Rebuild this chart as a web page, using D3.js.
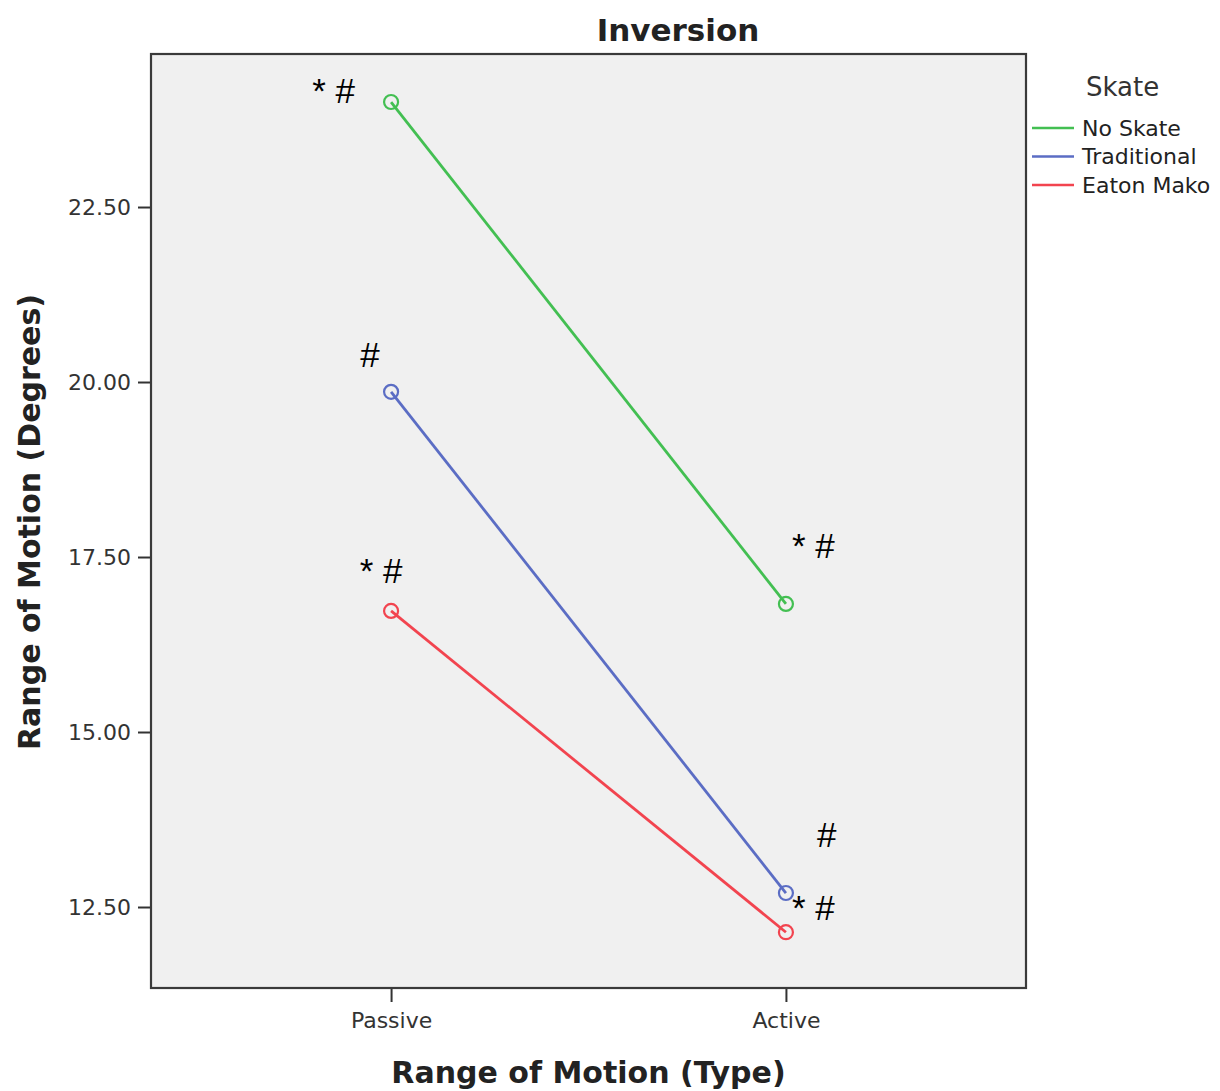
<!DOCTYPE html>
<html>
<head>
<meta charset="utf-8">
<script src="https://cdn.jsdelivr.net/npm/d3@7"></script>
<style>
  body { margin: 0; background: #fff; }
  svg text { font-family: "DejaVu Sans", sans-serif; }
</style>
</head>
<body>
<div id="chart"></div>
<script>
// Data
const types = ["Passive", "Active"];
const skates = ["No Skate", "Traditional", "Eaton Mako"];
const noSkate = [24.0, 16.83];
const traditional = [19.86, 12.70];
const eatonMako = [16.73, 12.14];
const yTicks = [12.5, 15.0, 17.5, 20.0, 22.5];
const colors = ["#43bf52", "#5b6dc4", "#f2444f"];

// significance marks: series index, type index, text
const marks = [
    { s: 0, t: 0, text: "* #", dx: -36, dy: 1, anchor: "end" },
    { s: 1, t: 0, text: "#", dx: -21, dy: -25, anchor: "middle" },
    { s: 2, t: 0, text: "* #", dx: -10, dy: -28, anchor: "middle" },
    { s: 0, t: 1, text: "* #", dx: 6, dy: -46, anchor: "start" },
    { s: 1, t: 1, text: "#", dx: 31, dy: -46, anchor: "start" },
    { s: 1, t: 1, text: "* #", dx: 6, dy: 27, anchor: "start" }
];

const series = [noSkate, traditional, eatonMako].map((vals, i) => ({
    name: skates[i],
    color: colors[i],
    values: vals.map((v, j) => ({ type: types[j], value: v }))
}));

const margin = { top: 54, right: 194, bottom: 103, left: 151 };
const width = 1220 - margin.left - margin.right,
    height = 1091 - margin.top - margin.bottom;

const svg = d3.select("#chart").append("svg")
    .attr("width", 1220)
    .attr("height", 1091);

const g = svg.append("g")
    .attr("transform", "translate(" + margin.left + "," + margin.top + ")");

// Scales
const x = d3.scalePoint()
    .domain(types)
    .range([0, width])
    .padding(0.608);

const y = d3.scaleLinear()
    .domain([11.343, 24.686])
    .range([height, 0]);

// plot background
g.append("rect")
    .attr("width", width)
    .attr("height", height)
    .attr("fill", "#f0f0f0");

// Axes
const xAxis = d3.axisBottom(x).tickSize(14).tickPadding(10);
const yAxis = d3.axisLeft(y).tickValues(yTicks).tickFormat(d3.format(".2f")).tickSize(13).tickPadding(7);

g.append("g")
    .attr("class", "x-axis axis")
    .attr("transform", "translate(0," + height + ")")
    .call(xAxis)
    .call(a => a.select(".domain").remove());

g.append("g")
    .attr("class", "y-axis axis")
    .call(yAxis)
    .call(a => a.select(".domain").remove());

svg.selectAll(".axis line").attr("stroke", "#333").attr("stroke-width", 2);
svg.selectAll(".axis text")
    .attr("fill", "#333")
    .style("font-size", "22px")
    .style("font-family", "DejaVu Sans, sans-serif");

// frame
g.append("rect")
    .attr("width", width)
    .attr("height", height)
    .attr("fill", "none")
    .attr("stroke", "#3a3a3a")
    .attr("stroke-width", 2.2);

// Lines and markers
const line = d3.line()
    .x(d => x(d.type))
    .y(d => y(d.value));

const sg = g.selectAll(".series")
    .data(series)
    .enter().append("g")
    .attr("class", "series");

sg.append("path")
    .attr("d", d => line(d.values))
    .attr("fill", "none")
    .attr("stroke", d => d.color)
    .attr("stroke-width", 2.8);

sg.selectAll("circle")
    .data(d => d.values.map(v => Object.assign({ color: d.color }, v)))
    .enter().append("circle")
    .attr("cx", d => x(d.type))
    .attr("cy", d => y(d.value))
    .attr("r", 7)
    .attr("fill", "none")
    .attr("stroke", d => d.color)
    .attr("stroke-width", 2.2);

// significance marks
g.selectAll(".mark")
    .data(marks)
    .enter().append("text")
    .attr("class", "mark")
    .attr("x", d => x(types[d.t]) + d.dx)
    .attr("y", d => y(series[d.s].values[d.t].value) + d.dy)
    .attr("text-anchor", d => d.anchor)
    .style("font-family", "Liberation Sans, Arial, sans-serif")
    .style("font-size", "35px")
    .attr("fill", "#000")
    .text(d => d.text);

// Titles
svg.append("text")
    .attr("x", 678)
    .attr("y", 41)
    .attr("text-anchor", "middle")
    .style("font-size", "31px")
    .style("font-weight", "bold")
    .attr("fill", "#222")
    .text("Inversion");

svg.append("text")
    .attr("x", margin.left + width / 2)
    .attr("y", 1083)
    .attr("text-anchor", "middle")
    .style("font-size", "30px")
    .style("font-weight", "bold")
    .attr("fill", "#222")
    .text("Range of Motion (Type)");

svg.append("text")
    .attr("transform", "translate(40," + (margin.top + height / 2 + 1) + ") rotate(-90)")
    .attr("text-anchor", "middle")
    .style("font-size", "30px")
    .style("font-weight", "bold")
    .attr("fill", "#222")
    .text("Range of Motion (Degrees)");

// Legend
const legend = svg.append("g")
    .attr("transform", "translate(1032,0)");

legend.append("text")
    .attr("x", 54)
    .attr("y", 96)
    .style("font-size", "26px")
    .attr("fill", "#333")
    .text("Skate");

const items = legend.selectAll(".item")
    .data(series)
    .enter().append("g")
    .attr("class", "item")
    .attr("transform", (d, i) => "translate(0," + (128 + i * 28.5) + ")");

items.append("line")
    .attr("x1", 0)
    .attr("x2", 42)
    .attr("stroke", d => d.color)
    .attr("stroke-width", 2.5);

items.append("text")
    .attr("x", 50)
    .attr("dy", "0.35em")
    .style("font-size", "22px")
    .attr("fill", "#222")
    .text(d => d.name);
</script>
</body>
</html>
